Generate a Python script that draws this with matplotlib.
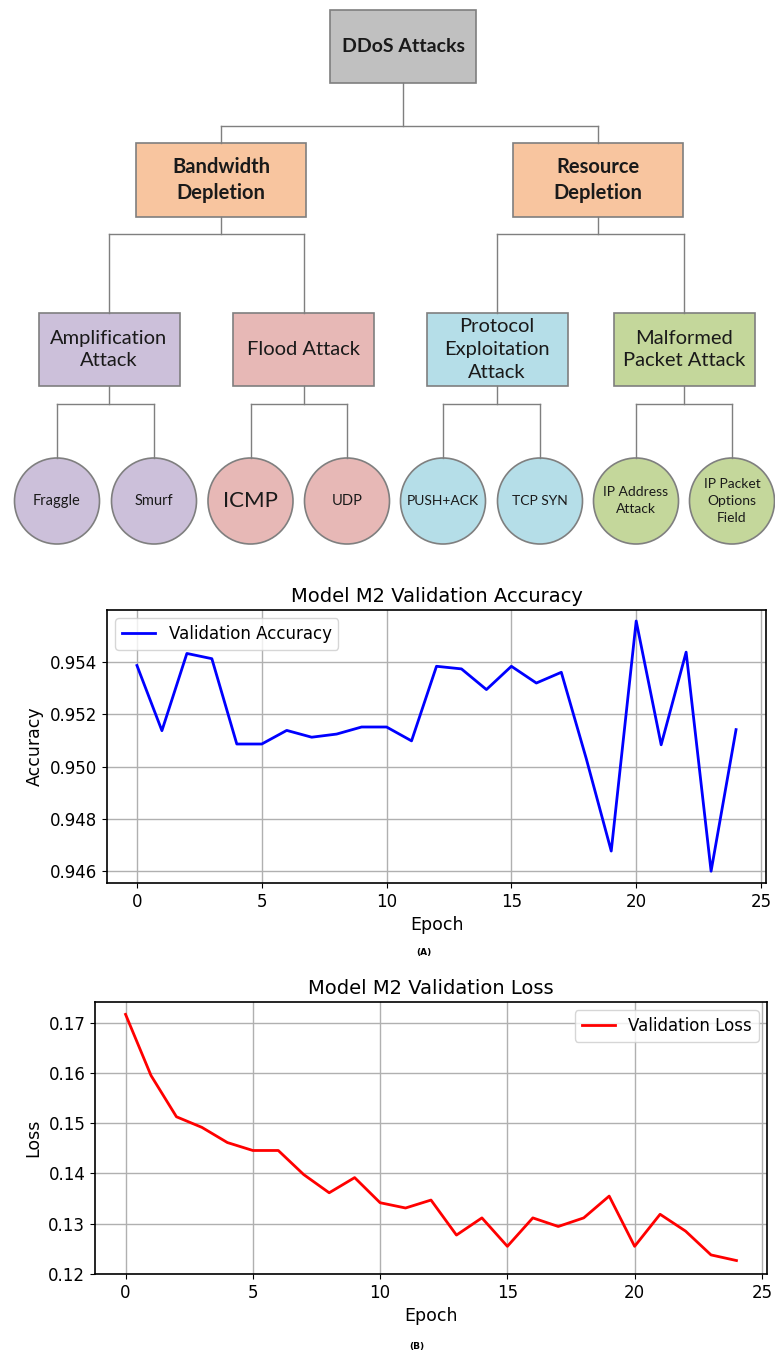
import matplotlib
matplotlib.use("Agg")
import matplotlib.pyplot as plt
from matplotlib.patches import Rectangle, Ellipse

# tree labels
root_label = "DDoS Attacks"
depletion_labels = ["Bandwidth\nDepletion", "Resource\nDepletion"]
attack_labels = ["Amplification\nAttack", "Flood Attack",
                 "Protocol\nExploitation\nAttack", "Malformed\nPacket Attack"]
leaf_labels = ["Fraggle", "Smurf", "ICMP", "UDP", "PUSH+ACK", "TCP SYN",
               "IP Address\nAttack", "IP Packet\nOptions\nField"]

# training curves
epochs = list(range(25))
val_acc = [0.95386, 0.95137, 0.95432, 0.95412, 0.95086, 0.95086, 0.95138,
           0.95112, 0.95124, 0.95151, 0.95151, 0.95098, 0.95383, 0.95373,
           0.95294, 0.95383, 0.95319, 0.95360, 0.95030, 0.94677, 0.95556,
           0.95083, 0.95437, 0.94600, 0.95141]
val_loss = [0.17164, 0.15947, 0.15125, 0.14914, 0.14612, 0.14454, 0.14454,
            0.13974, 0.13612, 0.13914, 0.13414, 0.13309, 0.13467, 0.12770,
            0.13112, 0.12546, 0.13112, 0.12941, 0.13112, 0.13546, 0.12546,
            0.13184, 0.12849, 0.12375, 0.12263]

W, H = 775, 1353
fig = plt.figure(figsize=(W / 100, H / 100), dpi=100)

# ---- tree diagram (pixel coordinates) ----
tree_h = 560
ax_t = fig.add_axes([0, 1 - tree_h / H, 1, tree_h / H])
ax_t.set_xlim(0, W)
ax_t.set_ylim(tree_h, 0)
ax_t.axis("off")

edge = "#7f7f7f"
txt = "#1a1a1a"
tree_font = "Lato"

def box(cx, cy, w, h, fc, label, size, weight="normal"):
    ax_t.add_patch(Rectangle((cx - w / 2, cy - h / 2), w, h, fc=fc, ec=edge, lw=1.2))
    ax_t.text(cx, cy, label, ha="center", va="center", fontsize=size,
              fontweight=weight, color=txt, family=tree_font, linespacing=1.4)

def link(px, py, kids_x, bar_y, kid_top):
    ax_t.plot([px, px], [py, bar_y], color=edge, lw=1)
    ax_t.plot([min(kids_x), max(kids_x)], [bar_y, bar_y], color=edge, lw=1)
    for kx in kids_x:
        ax_t.plot([kx, kx], [bar_y, kid_top], color=edge, lw=1)

root_x, root_y = 403, 46.5
dep_x = [221, 598]
dep_y = 180
att_x = [109, 303.5, 497, 684]
att_y = 349.5
leaf_x = [57, 154, 250.5, 347, 443, 540, 636, 732]
leaf_y = 501
leaf_d = 85

dep_colors = ["#f8c59f", "#f8c59f"]
att_colors = ["#ccc0da", "#e7b8b6", "#b5dee8", "#c4d79b"]

link(root_x, root_y + 36.5, dep_x, 126, dep_y - 37)
for i in range(2):
    link(dep_x[i], dep_y + 37, att_x[2 * i:2 * i + 2], 234, att_y - 36.5)
for i in range(4):
    link(att_x[i], att_y + 36.5, leaf_x[2 * i:2 * i + 2], 404, leaf_y - leaf_d / 2)

box(root_x, root_y, 146, 73, "#c0c0c0", root_label, 14, "bold")
for x, lab, c in zip(dep_x, depletion_labels, dep_colors):
    box(x, dep_y, 170, 74, c, lab, 14.5, "bold")
for x, lab, c in zip(att_x, attack_labels, att_colors):
    box(x, att_y, 141, 73, c, lab, 14.5)

leaf_sizes = [10.5, 10.5, 16, 10.5, 10, 10, 10, 10]
for i, (x, lab) in enumerate(zip(leaf_x, leaf_labels)):
    ax_t.add_patch(Ellipse((x, leaf_y), leaf_d, leaf_d + 1, fc=att_colors[i // 2], ec=edge, lw=1.2))
    ax_t.text(x, leaf_y, lab, ha="center", va="center", fontsize=leaf_sizes[i],
              color=txt, family=tree_font, linespacing=1.5)

# ---- accuracy chart ----
ax1 = fig.add_axes([107 / W, 1 - 883 / H, 659 / W, 273 / H])
ax1.plot(epochs, val_acc, color="blue", lw=2, label="Validation Accuracy")
ax1.set_title("Model M2 Validation Accuracy", fontsize=14)
ax1.set_xlabel("Epoch", fontsize=12.5)
ax1.set_ylabel("Accuracy", fontsize=12.5)
ax1.legend(loc="upper left", fontsize=12)
ax1.set_xticks([0, 5, 10, 15, 20, 25])
ax1.set_yticks([0.946, 0.948, 0.950, 0.952, 0.954])
ax1.set_ylim(0.94555, 0.95598)
ax1.grid(True, color="#b0b0b0", lw=1)
ax1.tick_params(labelsize=12)

fig.text(424 / W, 1 - 952 / H, "(A)", ha="center", va="center", fontsize=6.5, fontweight="bold")

# ---- loss chart ----
ax2 = fig.add_axes([95 / W, 1 - 1274 / H, 672 / W, 272 / H])
ax2.plot(epochs, val_loss, color="red", lw=2, label="Validation Loss")
ax2.set_title("Model M2 Validation Loss", fontsize=14)
ax2.set_xlabel("Epoch", fontsize=12.5)
ax2.set_ylabel("Loss", fontsize=12.5)
ax2.legend(loc="upper right", fontsize=12)
ax2.set_xticks([0, 5, 10, 15, 20, 25])
ax2.set_ylim(0.11995, 0.1741)
ax2.grid(True, color="#b0b0b0", lw=1)
ax2.tick_params(labelsize=12)

fig.text(417 / W, 1 - 1347 / H, "(B)", ha="center", va="center", fontsize=6.5, fontweight="bold")

for ax in (ax1, ax2):
    for s in ax.spines.values():
        s.set_linewidth(1.2)

fig.savefig("out.png", dpi=100)
